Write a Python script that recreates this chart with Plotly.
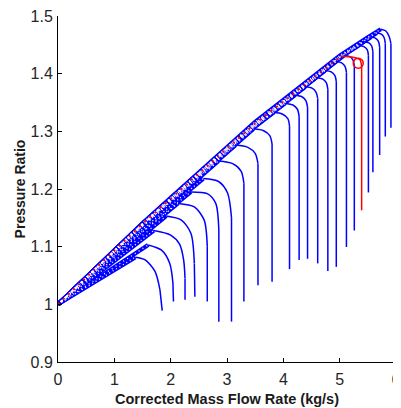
import plotly.graph_objects as go

X_TICKS = [0, 1, 2, 3, 4, 5, 6]
X_TICK_TEXT = ["0", "1", "2", "3", "4", "5", "6"]
Y_TICKS = [0.9, 1.0, 1.1, 1.2, 1.3, 1.4, 1.5]
Y_TICK_TEXT = ["0.9", "1", "1.1", "1.2", "1.3", "1.4", "1.5"]

# speed lines (blue): rising part from (0,1), turn-over, then choke (vertical)
SPEED_X = [
    [0, 0.5, 1.0, 1.37, 1.548, 1.722, 1.81, 1.85],
    [0, 0.5, 1, 1.5, 1.6, 1.838, 1.984, 2.04, 2.05],
    [0, 0.5, 1, 1.5, 1.7, 2.0, 2.16, 2.23, 2.255, 2.255],
    [0, 0.5, 1, 1.5, 1.92, 2.19, 2.36, 2.42, 2.43],
    [0, .5, 1, 1.5, 2, 2.13, 2.42, 2.595, 2.65, 2.65],
    [0, .5, 1, 1.5, 2, 2.36, 2.65, 2.80, 2.855, 2.855],
    [0, .5, 1, 1.5, 2, 2.5, 2.58, 2.85, 3.01, 3.08, 3.08],
    [0, .5, 1, 1.5, 2, 2.5, 2.85, 3.10, 3.25, 3.30, 3.30],
    [0, .5, 1, 1.5, 2, 2.5, 3, 3.15, 3.37, 3.50, 3.55, 3.55],
    [0, .5, 1, 1.5, 2, 2.5, 3, 3.47, 3.65, 3.76, 3.80, 3.80],
    [0, .5, 1, 1.5, 2, 2.5, 3, 3.5, 3.83, 3.98, 4.08, 4.11, 4.11],
    [0, .5, 1, 1.5, 2, 2.5, 3, 3.5, 4.03, 4.17, 4.25, 4.28, 4.28],
    [0, .5, 1, 1.5, 2, 2.5, 3, 3.5, 4, 4.20, 4.33, 4.40, 4.43, 4.43],
    [0, .5, 1, 1.5, 2, 2.5, 3, 3.5, 4, 4.39, 4.51, 4.58, 4.61, 4.61],
    [0, .5, 1, 1.5, 2, 2.5, 3, 3.5, 4, 4.58, 4.70, 4.765, 4.79, 4.79],
    [0, .5, 1, 1.5, 2, 2.5, 3, 3.5, 4, 4.5, 4.74, 4.85, 4.916, 4.94, 4.94],
    [0, .5, 1, 1.5, 2, 2.5, 3, 3.5, 4, 4.5, 4.93, 5.035, 5.097, 5.12, 5.12],
    [0, .5, 1, 1.5, 2, 2.5, 3, 3.5, 4, 4.5, 5, 5.08, 5.179, 5.238, 5.26, 5.26],
    [0, .5, 1, 1.5, 2, 2.5, 3, 3.5, 4, 4.5, 5, 5.34, 5.43, 5.49, 5.51, 5.51],
    [0, .5, 1, 1.5, 2, 2.5, 3, 3.5, 4, 4.5, 5, 5.43, 5.52, 5.57, 5.59, 5.59],
    [0, .5, 1, 1.5, 2, 2.5, 3, 3.5, 4, 4.5, 5, 5.5, 5.56, 5.64, 5.69, 5.71, 5.71],
    [0, .5, 1, 1.5, 2, 2.5, 3, 3.5, 4, 4.5, 5, 5.5, 5.66, 5.74, 5.79, 5.81, 5.81],
    [0, .5, 1, 1.5, 2, 2.5, 3, 3.5, 4, 4.5, 5, 5.5, 5.73, 5.82, 5.88, 5.91, 5.91],
]
SPEED_Y = [
    [1, 1.0298, 1.0595, 1.0815, 1.077, 1.057, 1.025, 0.989],
    [1, 1.0322, 1.0644, 1.0966, 1.103, 1.094, 1.071, 1.037, 1.005],
    [1, 1.0376, 1.0753, 1.1129, 1.128, 1.12, 1.104, 1.077, 1.045, 1.008],
    [1, 1.0398, 1.0797, 1.1195, 1.153, 1.146, 1.123, 1.071, 1.013],
    [1, 1.0419, 1.0838, 1.1256, 1.1648, 1.175, 1.169, 1.146, 1.10, 1.005],
    [1, 1.0423, 1.0846, 1.1269, 1.1665, 1.195, 1.192, 1.175, 1.129, 0.970],
    [1, 1.0434, 1.0869, 1.1303, 1.1709, 1.2116, 1.218, 1.213, 1.193, 1.15, 0.97],
    [1, 1.0448, 1.0897, 1.1345, 1.1765, 1.2189, 1.2486, 1.244, 1.231, 1.21, 1.005],
    [1, 1.0452, 1.0904, 1.1356, 1.178, 1.2208, 1.2635, 1.2762, 1.2723, 1.2617, 1.244, 1.033],
    [1, 1.0455, 1.091, 1.1365, 1.1791, 1.2222, 1.2651, 1.3043, 1.3011, 1.2925, 1.278, 1.039],
    [1, 1.0458, 1.0916, 1.1373, 1.1802, 1.2235, 1.2668, 1.3084, 1.333, 1.3301, 1.3222, 1.309, 1.061],
    [1, 1.0458, 1.0917, 1.1375, 1.1804, 1.2238, 1.2671, 1.3087, 1.3484, 1.3457, 1.3383, 1.326, 1.077],
    [1, 1.046, 1.0919, 1.1379, 1.1809, 1.2245, 1.2679, 1.3096, 1.3472, 1.3625, 1.36, 1.3533, 1.342, 1.079],
    [1, 1.046, 1.092, 1.138, 1.1811, 1.2247, 1.2681, 1.3099, 1.3475, 1.3772, 1.3748, 1.3681, 1.357, 1.071],
    [1, 1.0462, 1.0924, 1.1385, 1.1818, 1.2255, 1.2691, 1.3111, 1.3488, 1.393, 1.3906, 1.384, 1.373, 1.058],
    [1, 1.0462, 1.0924, 1.1386, 1.1819, 1.2256, 1.2692, 1.3112, 1.349, 1.387, 1.4053, 1.403, 1.3966, 1.386, 1.065],
    [1, 1.0463, 1.0927, 1.139, 1.1824, 1.2263, 1.2701, 1.3122, 1.35, 1.3882, 1.4209, 1.4186, 1.4124, 1.402, 1.0995],
    [1, 1.0463, 1.0927, 1.139, 1.1824, 1.2263, 1.2701, 1.3122, 1.35, 1.3882, 1.4263, 1.4319, 1.4296, 1.4234, 1.413, 1.128],
    [1, 1.0465, 1.093, 1.1394, 1.183, 1.227, 1.2709, 1.3131, 1.3511, 1.3894, 1.4276, 1.4489, 1.4469, 1.4413, 1.432, 1.194],
    [1, 1.0466, 1.0932, 1.1397, 1.1833, 1.2274, 1.2714, 1.3137, 1.3518, 1.3902, 1.4285, 1.4555, 1.4534, 1.4476, 1.438, 1.229],
    [1, 1.0466, 1.0932, 1.1397, 1.1833, 1.2274, 1.2714, 1.3137, 1.3518, 1.3902, 1.4285, 1.4596, 1.4635, 1.4614, 1.4556, 1.446, 1.259],
    [1, 1.0467, 1.0934, 1.1402, 1.1839, 1.2281, 1.2723, 1.3147, 1.3529, 1.3913, 1.4298, 1.461, 1.4707, 1.4685, 1.4623, 1.452, 1.291],
    [1, 1.0469, 1.0938, 1.1407, 1.1846, 1.2285, 1.2735, 1.3164, 1.3543, 1.3932, 1.4311, 1.4631, 1.477, 1.474, 1.464, 1.452, 1.306],
]

# highlighted speed line (red)
RED_X = [0, .5, 1, 1.5, 2, 2.5, 3, 3.5, 4, 4.5, 5.02, 5.25, 5.36, 5.39, 5.39]
RED_Y = [1, 1.0465, 1.0931, 1.1396, 1.1832, 1.2267, 1.2713, 1.3138, 1.3515, 1.3901, 1.430, 1.428, 1.424, 1.412, 1.163]

# operating point (red circle)
OP_X = [5.33]
OP_Y = [1.418]

BLUE = "#0000ff"
RED = "#ff0000"
FONT = "Liberation Sans, Arial, sans-serif"
SPECKLE = ["1px,3px", "1px,3.6px", "1px,2.6px", "1px,4.2px"]

fig = go.Figure()


def line(x, y, color, width, dash=None, shape="linear"):
    fig.add_trace(go.Scatter(x=x, y=y, mode="lines",
                             line=dict(color=color, width=width, dash=dash,
                                       shape=shape, smoothing=0.8),
                             hoverinfo="skip"))


peaks = [cy.index(max(cy)) for cy in SPEED_Y]

# rising (surge-side) parts: chains of open circles -> thick band with speckles
for cx, cy, ip in zip(SPEED_X, SPEED_Y, peaks):
    line(cx[:ip + 1], cy[:ip + 1], BLUE, 4.2)
for n, (cx, cy, ip) in enumerate(zip(SPEED_X, SPEED_Y, peaks)):
    line(cx[:ip + 1], cy[:ip + 1], "white", 1.3, dash=SPECKLE[n % len(SPECKLE)])

# turn-over and choke parts
for cx, cy, ip in zip(SPEED_X, SPEED_Y, peaks):
    line(cx[ip:-1], cy[ip:-1], BLUE, 1.5, shape="spline")
    line(cx[-2:], cy[-2:], BLUE, 1.5)

ipr = RED_Y.index(max(RED_Y))
line(RED_X[:ipr + 1], RED_Y[:ipr + 1], RED, 2, dash="2px,5px")
line(RED_X[ipr:-1], RED_Y[ipr:-1], RED, 1.5, shape="spline")
line(RED_X[-2:], RED_Y[-2:], RED, 1.5)
fig.add_trace(go.Scatter(x=OP_X, y=OP_Y, mode="markers",
                         marker=dict(symbol="circle-open", size=10, color=RED,
                                     line=dict(width=1.5, color=RED)),
                         hoverinfo="skip"))

fig.update_layout(
    width=393, height=400,
    margin=dict(l=50, r=0, t=7, b=46),
    paper_bgcolor="white", plot_bgcolor="white",
    showlegend=False,
    font=dict(family=FONT, color="#262626"),
)
fig.update_xaxes(
    range=[0, 6], tickvals=X_TICKS, ticktext=X_TICK_TEXT,
    ticks="inside", ticklen=4, tickcolor="black", tickwidth=1,
    showline=True, linecolor="black", linewidth=1,
    showgrid=False, zeroline=False,
    tickfont=dict(size=16, family=FONT, color="#262626"),
    ticklabelstandoff=3, ticklabeloverflow="allow",
    title=dict(text="<b>Corrected Mass Flow Rate (kg/s)</b>",
               font=dict(size=14.5, family=FONT, color="#1a1a1a"), standoff=6),
)
fig.update_yaxes(
    range=[0.9, 1.5], tickvals=Y_TICKS, ticktext=Y_TICK_TEXT,
    ticks="inside", ticklen=4, tickcolor="black", tickwidth=1,
    showline=True, linecolor="black", linewidth=1,
    showgrid=False, zeroline=False,
    tickfont=dict(size=16, family=FONT, color="#262626"),
    ticklabelstandoff=1, ticklabeloverflow="allow",
    title=dict(text="<b>Pressure Ratio</b>",
               font=dict(size=14, family=FONT, color="#1a1a1a"), standoff=1),
)

fig.write_html("out.html")
